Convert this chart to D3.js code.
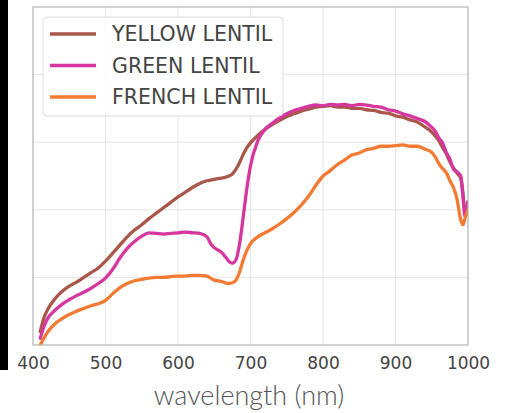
<!DOCTYPE html>
<html><head><meta charset="utf-8">
<script src="https://cdn.jsdelivr.net/npm/d3@7"></script>
<style>html,body{margin:0;padding:0;background:#fff;}svg{display:block;}</style>
</head><body>
<svg id="chart" width="506" height="413"></svg>
<script>
const wavelength = [410,415,420,430,440,450,460,470,480,490,500,510,520,530,540,550,560,570,580,590,600,610,620,630,640,645,650,660,665,670,675,680,685,690,695,700,710,720,730,740,750,760,770,780,790,800,810,820,830,840,850,860,870,880,890,900,910,920,930,940,950,955,960,965,970,975,980,985,990,993,996,1000];
const yellowLentil = [0.20,0.40,0.52,0.68,0.79,0.87,0.93,1.00,1.07,1.14,1.24,1.36,1.48,1.60,1.70,1.78,1.87,1.95,2.03,2.11,2.19,2.26,2.33,2.39,2.43,2.44,2.45,2.47,2.48,2.50,2.53,2.60,2.70,2.82,2.92,2.99,3.10,3.19,3.26,3.32,3.38,3.42,3.46,3.49,3.52,3.53,3.54,3.52,3.52,3.50,3.50,3.48,3.47,3.44,3.43,3.39,3.37,3.33,3.30,3.23,3.15,3.09,3.02,2.92,2.83,2.71,2.62,2.54,2.47,2.25,1.95,2.12];
const greenLentil = [0.10,0.27,0.39,0.51,0.60,0.67,0.73,0.78,0.84,0.91,0.99,1.12,1.29,1.43,1.53,1.61,1.66,1.65,1.64,1.65,1.66,1.67,1.66,1.65,1.60,1.50,1.44,1.37,1.31,1.24,1.21,1.26,1.50,1.90,2.32,2.65,3.02,3.19,3.28,3.36,3.42,3.47,3.50,3.53,3.55,3.54,3.56,3.55,3.56,3.54,3.56,3.55,3.53,3.52,3.48,3.46,3.42,3.39,3.35,3.31,3.22,3.16,3.06,2.99,2.85,2.75,2.60,2.56,2.50,2.20,1.90,2.12];
const frenchLentil = [0.00,0.10,0.19,0.31,0.39,0.45,0.50,0.54,0.58,0.61,0.66,0.76,0.85,0.91,0.95,0.97,0.99,1.00,1.00,1.01,1.02,1.02,1.03,1.03,1.02,0.99,0.96,0.94,0.92,0.91,0.92,0.96,1.08,1.26,1.40,1.50,1.60,1.66,1.72,1.79,1.87,1.96,2.07,2.20,2.36,2.50,2.58,2.67,2.74,2.81,2.84,2.89,2.91,2.94,2.94,2.95,2.96,2.94,2.94,2.90,2.85,2.78,2.68,2.61,2.55,2.43,2.33,2.15,1.85,1.78,1.88,2.00];
const seriesNames = ["YELLOW LENTIL","GREEN LENTIL","FRENCH LENTIL"];
const seriesColors = ["#a9574a","#d6379f","#f37a32"];
const xTicks = [400,500,600,700,800,900,1000];
const yGrid = [1,2,3,4];
const xLabel = "wavelength (nm)";

const svg = d3.select("#chart");
const L = 33, R = 468, T = 7, B = 345;
const x = d3.scaleLinear().domain([400,1000]).range([L,R]);
const y = d3.scaleLinear().domain([0,5]).range([B,T]);

svg.append("rect").attr("x",0).attr("y",0).attr("width",8).attr("height",370).attr("fill","#000");

const grid = svg.append("g");
grid.selectAll("line.v").data(xTicks.slice(1,-1)).join("line")
  .attr("x1",d=>x(d)).attr("x2",d=>x(d)).attr("y1",T).attr("y2",B)
  .attr("stroke","#e5e5e5").attr("stroke-width",1);
grid.selectAll("line.h").data(yGrid).join("line")
  .attr("x1",L).attr("x2",R).attr("y1",d=>y(d)).attr("y2",d=>y(d))
  .attr("stroke","#e5e5e5").attr("stroke-width",1);

const xAxis = d3.axisBottom(x).tickValues(xTicks).tickSize(0).tickPadding(12).tickFormat(d3.format("d"));
const gx = svg.append("g").attr("transform",`translate(0,${B})`).call(xAxis);
gx.select(".domain").remove();
gx.selectAll("text").attr("font-family","DejaVu Sans").attr("font-size","17px").attr("fill","#444");

svg.append("clipPath").attr("id","clip").append("rect").attr("x",L).attr("y",T).attr("width",R-L).attr("height",B-T);

const allSeries = [yellowLentil, greenLentil, frenchLentil];
const line = d3.line().x((d,i)=>x(wavelength[i])).y(d=>y(d)).curve(d3.curveMonotoneX);
const lines = svg.append("g").attr("clip-path","url(#clip)");
allSeries.forEach((s,k)=>{
  lines.append("path").datum(s).attr("d",line).attr("fill","none")
    .attr("stroke",seriesColors[k]).attr("stroke-width",3.3).attr("stroke-linejoin","round").attr("stroke-linecap","round");
});

svg.append("rect").attr("x",L).attr("y",T).attr("width",R-L).attr("height",B-T)
  .attr("fill","none").attr("stroke","#b3b3b3").attr("stroke-width",1.2);

const lg = svg.append("g");
lg.append("rect").attr("x",43).attr("y",17).attr("width",240).attr("height",99).attr("rx",4)
  .attr("fill","#fff").attr("fill-opacity",0.85).attr("stroke","#dcdcdc");
seriesNames.forEach((n,k)=>{
  const yy = 34 + k*31.5;
  lg.append("line").attr("x1",50).attr("x2",96).attr("y1",yy).attr("y2",yy)
    .attr("stroke",seriesColors[k]).attr("stroke-width",3.3);
  lg.append("text").attr("x",112).attr("y",yy).attr("dy","0.36em").text(n)
    .attr("font-family","DejaVu Sans").attr("font-size","20.5px").attr("fill","#444");
});

svg.append("text").attr("x",249).attr("y",405).attr("text-anchor","middle").text(xLabel)
  .attr("font-family","Lato").attr("font-weight",300).attr("font-size","27px").attr("fill","#555");
</script>
</body></html>
